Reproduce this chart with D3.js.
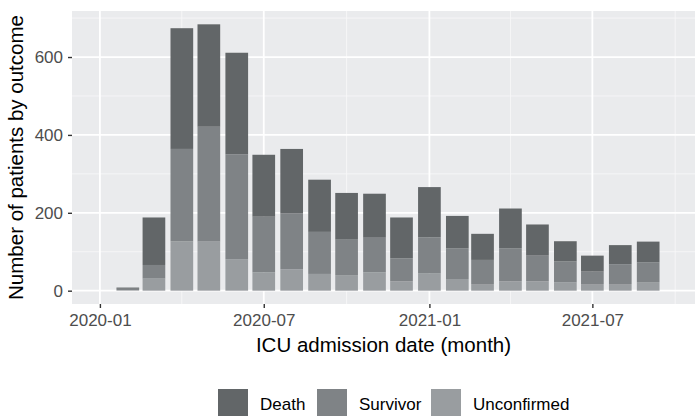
<!DOCTYPE html>
<html>
<head>
<meta charset="utf-8">
<script src="https://cdn.jsdelivr.net/npm/d3@7"></script>
<style>
  html, body { margin: 0; padding: 0; background: #ffffff; }
  svg { display: block; font-family: "Liberation Sans", Arial, sans-serif; }
</style>
</head>
<body>
<svg id="chart" width="695" height="416"></svg>
<script>
// Monthly ICU admissions, stacked by patient outcome
const months = ["2020-02","2020-03","2020-04","2020-05","2020-06","2020-07","2020-08","2020-09","2020-10","2020-11",
                "2020-12","2021-01","2021-02","2021-03","2021-04","2021-05","2021-06","2021-07","2021-08","2021-09"];
const unconfirmed = [1, 31, 127, 126, 81, 47, 55, 43, 40, 47, 24, 44, 30, 17, 24, 24, 21, 17, 17, 22];
const survivor    = [4, 35, 237, 295, 269, 143, 143, 108, 91, 89, 59, 93, 79, 62, 85, 66, 54, 32, 51, 51];
const death       = [3, 122, 310, 263, 261, 159, 166, 134, 120, 113, 105, 129, 83, 67, 102, 80, 52, 41, 49, 53];

const outcomes = ["Death", "Survivor", "Unconfirmed"];
const outcomeColors = ["#626668", "#7f8386", "#999da0"];
const xTickLabels = ["2020-01", "2020-07", "2021-01", "2021-07"];
const xMinorTicks = ["2020-04", "2020-10", "2021-04", "2021-10"];
const yTicks = [0, 200, 400, 600];
const yMinorTicks = [100, 300, 500, 700];

const parseMonth = d3.timeParse("%Y-%m");
const DAY = 24 * 3600 * 1000;

const rows = months.map((m, i) => ({
  date: parseMonth(m),
  Unconfirmed: unconfirmed[i],
  Survivor: survivor[i],
  Death: death[i]
}));

const svg = d3.select("#chart");
const panel = { left: 72, right: 695, top: 11, bottom: 304 };

// Horizontal time scale, vertical count scale with 5% padding
const x = d3.scaleTime()
  .domain([new Date(2019, 11, 1), new Date(2021, 9, 23)])
  .range([panel.left, panel.right]);

const totals = rows.map(r => r.Unconfirmed + r.Survivor + r.Death);
const maxTotal = d3.max(totals);
const y = d3.scaleLinear()
  .domain([-maxTotal * 0.05, maxTotal * 1.05])
  .range([panel.bottom, panel.top]);

// Panel background
svg.append("rect")
  .attr("x", panel.left).attr("y", panel.top)
  .attr("width", panel.right - panel.left).attr("height", panel.bottom - panel.top)
  .attr("fill", "#eaebed");

const grid = svg.append("g");
// Minor grid lines
grid.selectAll(".ymin").data(yMinorTicks).join("line")
  .attr("x1", panel.left).attr("x2", panel.right)
  .attr("y1", d => y(d)).attr("y2", d => y(d))
  .attr("stroke", "#f7f7f8").attr("stroke-width", 0.9);
grid.selectAll(".xmin").data(xMinorTicks.map(parseMonth)).join("line")
  .attr("y1", panel.top).attr("y2", panel.bottom)
  .attr("x1", d => x(d)).attr("x2", d => x(d))
  .attr("stroke", "#f7f7f8").attr("stroke-width", 0.9);
// Major grid lines
grid.selectAll(".ymaj").data(yTicks).join("line")
  .attr("x1", panel.left).attr("x2", panel.right)
  .attr("y1", d => y(d)).attr("y2", d => y(d))
  .attr("stroke", "#ffffff").attr("stroke-width", 1.8);
grid.selectAll(".xmaj").data(xTickLabels.map(parseMonth)).join("line")
  .attr("y1", panel.top).attr("y2", panel.bottom)
  .attr("x1", d => x(d)).attr("x2", d => x(d))
  .attr("stroke", "#ffffff").attr("stroke-width", 1.8);

// Stacked bars: Unconfirmed at the bottom, Death on top
const stack = d3.stack().keys(["Unconfirmed", "Survivor", "Death"]);
const series = stack(rows);
const colorOf = d3.scaleOrdinal().domain(outcomes).range(outcomeColors);
const halfWidth = 0.9 * 28 * DAY / 2;

svg.append("g").selectAll("g").data(series).join("g")
  .attr("fill", d => colorOf(d.key))
  .selectAll("rect").data(d => d).join("rect")
  .attr("x", d => x(new Date(d.data.date.getTime() - halfWidth)))
  .attr("width", d => x(new Date(d.data.date.getTime() + halfWidth)) - x(new Date(d.data.date.getTime() - halfWidth)))
  .attr("y", d => y(d[1]))
  .attr("height", d => y(d[0]) - y(d[1]));

// Axes
const xAxis = d3.axisBottom(x)
  .tickValues(xTickLabels.map(parseMonth))
  .tickFormat(d3.timeFormat("%Y-%m"))
  .tickSize(4).tickPadding(6);
const gx = svg.append("g").attr("transform", `translate(0,${panel.bottom})`).call(xAxis);
gx.select(".domain").remove();
gx.selectAll(".tick line").attr("stroke", "#333333").attr("stroke-width", 1.4);
gx.selectAll(".tick text").attr("fill", "#4d4d4d").attr("font-size", "17px")
  .attr("font-family", "Liberation Sans, Arial, sans-serif");

const yAxis = d3.axisLeft(y).tickValues(yTicks).tickSize(4).tickPadding(5);
const gy = svg.append("g").attr("transform", `translate(${panel.left},0)`).call(yAxis);
gy.select(".domain").remove();
gy.selectAll(".tick line").attr("stroke", "#333333").attr("stroke-width", 1.4);
gy.selectAll(".tick text").attr("fill", "#4d4d4d").attr("font-size", "17px")
  .attr("font-family", "Liberation Sans, Arial, sans-serif");

// Axis titles
svg.append("text")
  .attr("x", (panel.left + panel.right) / 2).attr("y", 352)
  .attr("text-anchor", "middle").attr("font-size", "20.5px").attr("fill", "#000")
  .text("ICU admission date (month)");
svg.append("text")
  .attr("transform", `translate(23,${(panel.top + panel.bottom) / 2}) rotate(-90)`)
  .attr("text-anchor", "middle").attr("font-size", "20.5px").attr("fill", "#000")
  .text("Number of patients by outcome");

// Legend along the bottom
const legendX = [218, 317, 431];
const legend = svg.append("g").selectAll("g").data(outcomes).join("g")
  .attr("transform", (d, i) => `translate(${legendX[i]},389)`);
legend.append("rect")
  .attr("width", 30).attr("height", 30)
  .attr("fill", d => colorOf(d));
legend.append("text")
  .attr("x", 42).attr("y", 15).attr("dy", "0.35em")
  .attr("font-size", "17px").attr("fill", "#000")
  .text(d => d);
</script>
</body>
</html>
